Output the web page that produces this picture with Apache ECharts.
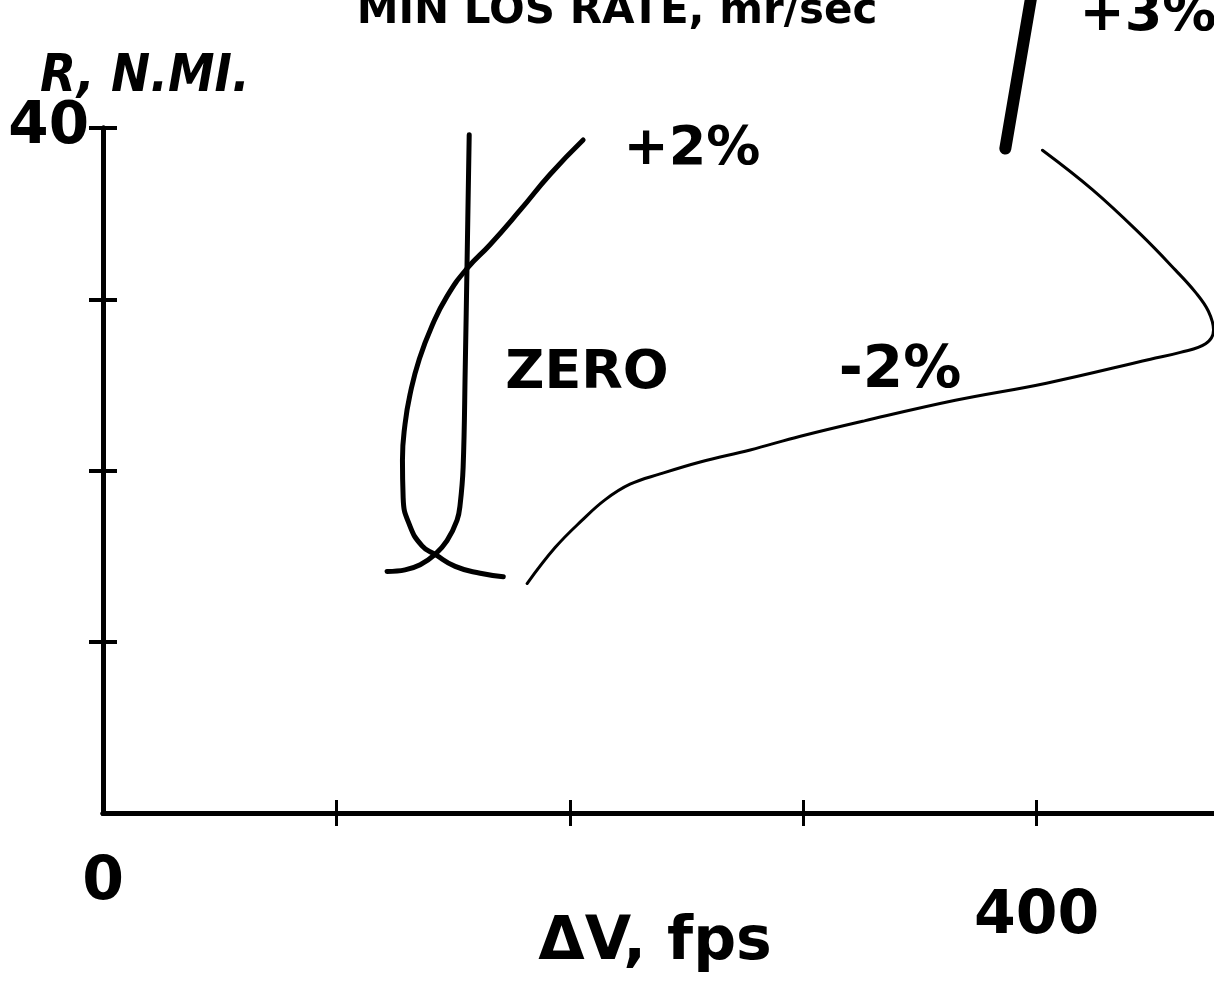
<!DOCTYPE html>
<html>
<head>
<meta charset="utf-8">
<script src="https://cdn.jsdelivr.net/npm/echarts@6/dist/echarts.min.js"></script>
<style>
html,body{margin:0;padding:0;background:#fff;}
#chart{width:1214px;height:991px;}
</style>
</head>
<body>
<div id="chart"></div>
<script>
// ---- data ----
const xTickValues = [100, 200, 300, 400];
const xLabelValues = [0, 400];
const yTickValues = [10, 20, 30, 40];
const yLabelValues = [40];

// R (N.MI.) vs ΔV (fps) for each min LOS rate
const zeroCurve = [[156.9,39.6],[156.0,32.3],[155.2,26.0],[154.3,20.2],[153.0,18.0],[151.7,17.1],[147.4,15.9],[142.3,15.1],[135.9,14.5],[129.4,14.2],[121.7,14.1]];
const plus2Curve = [[205.7,39.3],[191.6,37.3],[178.7,35.2],[165.9,33.2],[156.0,31.8],[147.5,30.2],[140.8,28.4],[135.5,26.5],[131.8,24.6],[129.4,22.7],[128.3,20.6],[128.6,18.4],[131.4,16.8],[136.7,15.6],[142.3,15.1],[150.9,14.4],[161.6,14.0],[171.5,13.8]];
const minus2Curve = [[181.7,13.4],[193.7,15.5],[205.3,17.1],[215.2,18.3],[225.8,19.2],[238.7,19.8],[255.9,20.5],[277.3,21.2],[298.8,22.0],[326.2,22.9],[365.2,24.1],[404.2,25.1],[448.8,26.5],[461.6,26.9],[472.4,27.4],[475.8,28.2],[473.6,29.3],[468.1,30.4],[459.5,31.7],[444.5,33.8],[423.9,36.4],[402.5,38.7]];
const plus3Curve = [[386.6,38.8],[397.5,47.5]];

const FONT = 'DejaVu Sans';
const chart = echarts.init(document.getElementById('chart'));

const baseX = {
  type: 'value', min: 0, max: 476, position: 'bottom',
  splitLine: {show: false},
  axisLine: {show: true, onZero: false, lineStyle: {color: '#000', width: 5}}
};
const baseY = {
  type: 'value', min: 0, max: 40, position: 'left',
  splitLine: {show: false},
  axisLine: {show: true, onZero: false, lineStyle: {color: '#000', width: 5}}
};

chart.setOption({
  animation: false,
  backgroundColor: '#fff',
  grid: {left: 103, right: 0, top: 128, bottom: 178, containLabel: false},
  xAxis: [
    Object.assign({}, baseX, {
      axisTick: {show: true, inside: false, length: 13, customValues: xTickValues, lineStyle: {color: '#000', width: 3}},
      axisLabel: {
        show: true, customValues: xLabelValues, margin: 40,
        formatter: function (v) { return v === 0 ? '{a|' + v + '}' : '{b|' + v + '}'; },
        rich: {
          a: {fontFamily: FONT, fontWeight: 'bold', fontSize: 60, color: '#000'},
          b: {fontFamily: FONT, fontWeight: 'bold', fontSize: 60, color: '#000', padding: [34, 0, 0, 0]}
        }
      }
    }),
    Object.assign({}, baseX, {
      axisTick: {show: true, inside: true, length: 13, customValues: xTickValues, lineStyle: {color: '#000', width: 3}},
      axisLabel: {show: false}
    })
  ],
  yAxis: [
    Object.assign({}, baseY, {
      axisTick: {show: true, inside: false, length: 14, customValues: yTickValues, lineStyle: {color: '#000', width: 4}},
      axisLabel: {show: true, customValues: yLabelValues, margin: 14, fontFamily: FONT, fontWeight: 'bold', fontSize: 58, color: '#000'}
    }),
    Object.assign({}, baseY, {
      axisTick: {show: true, inside: true, length: 14, customValues: yTickValues, lineStyle: {color: '#000', width: 4}},
      axisLabel: {show: false}
    })
  ],
  series: [
    {name: 'ZERO', type: 'line', data: zeroCurve, smooth: 0.4, symbol: 'none', clip: false,
     lineStyle: {color: '#000', width: 5, cap: 'round'}},
    {name: '+2%', type: 'line', data: plus2Curve, smooth: 0.5, symbol: 'none', clip: false,
     lineStyle: {color: '#000', width: 5, cap: 'round'}},
    {name: '-2%', type: 'line', data: minus2Curve, smooth: 0.4, symbol: 'none', clip: false,
     lineStyle: {color: '#000', width: 3, cap: 'round'}},
    {name: '+3%', type: 'line', data: plus3Curve, symbol: 'none', clip: false,
     lineStyle: {color: '#000', width: 12, cap: 'round'}}
  ],
  graphic: [
    {type: 'text', x: 617, y: 12, style: {text: 'MIN LOS RATE, mr/sec', font: 'bold 42px "DejaVu Sans"', fill: '#000', verticalAlign: 'middle', align: 'center'}},
    {type: 'text', x: 40, y: 77, style: {text: 'R, N.MI.', font: 'italic bold 52px "DejaVu Sans Condensed", "DejaVu Sans"', fill: '#000', verticalAlign: 'middle', align: 'left'}},
    {type: 'text', x: 692, y: 150, style: {text: '+2%', font: 'bold 54px "DejaVu Sans"', fill: '#000', verticalAlign: 'middle', align: 'center'}},
    {type: 'text', x: 587, y: 374, style: {text: 'ZERO', font: 'bold 54px "DejaVu Sans"', fill: '#000', verticalAlign: 'middle', align: 'center'}},
    {type: 'text', x: 900, y: 372, style: {text: '-2%', font: 'bold 58px "DejaVu Sans"', fill: '#000', verticalAlign: 'middle', align: 'center'}},
    {type: 'text', x: 1148, y: 16, style: {text: '+3%', font: 'bold 54px "DejaVu Sans"', fill: '#000', verticalAlign: 'middle', align: 'center'}},
    {type: 'text', x: 655, y: 943, style: {text: 'ΔV, fps', font: 'bold 60px "DejaVu Sans"', fill: '#000', verticalAlign: 'middle', align: 'center'}}
  ]
});
</script>
</body>
</html>
